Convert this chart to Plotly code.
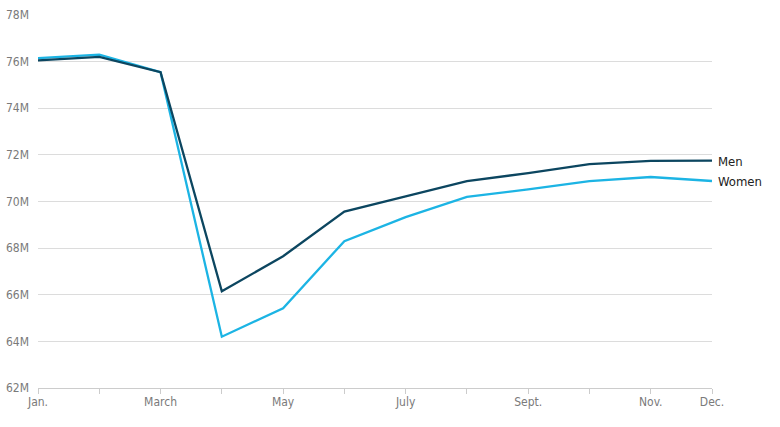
import plotly.graph_objects as go

months = ["Jan.", "Feb.", "March", "April", "May", "June", "July", "Aug.", "Sept.", "Oct.", "Nov.", "Dec."]
tick_labels = ["Jan.", "", "March", "", "May", "", "July", "", "Sept.", "", "Nov.", "Dec."]
men = [76.05, 76.2, 75.55, 66.15, 67.65, 69.57, 70.22, 70.87, 71.22, 71.6, 71.74, 71.75]
women = [76.15, 76.3, 75.55, 64.2, 65.42, 68.3, 69.33, 70.2, 70.52, 70.87, 71.05, 70.88]
y_ticks = [62, 64, 66, 68, 70, 72, 74, 76, 78]

FONT = "DejaVu Sans Condensed, sans-serif"
x = list(range(len(months)))

fig = go.Figure()
fig.add_trace(go.Scatter(x=x, y=women, mode="lines", name="Women",
                         line=dict(color="#1cb4e4", width=2.3)))
fig.add_trace(go.Scatter(x=x, y=men, mode="lines", name="Men",
                         line=dict(color="#0c4660", width=2.3)))

fig.add_annotation(x=x[-1], y=men[-1], text="Men", xref="x", yref="y",
                   xanchor="left", yanchor="middle", xshift=4, yshift=-1, showarrow=False,
                   font=dict(family=FONT, size=13, color="#222222"))
fig.add_annotation(x=x[-1], y=women[-1], text="Women", xref="x", yref="y",
                   xanchor="left", yanchor="middle", xshift=4, yshift=-1, showarrow=False,
                   font=dict(family=FONT, size=13, color="#222222"))

fig.update_layout(
    width=780, height=427,
    margin=dict(l=38, r=68, t=15, b=39),
    plot_bgcolor="white", paper_bgcolor="white",
    showlegend=False,
    font=dict(family=FONT, size=12, color="#7a7a7a"),
)
fig.update_xaxes(
    range=[0, 11], tickvals=x, ticktext=tick_labels,
    showgrid=False, zeroline=False, automargin=False,
    showline=True, linecolor="#cccccc", linewidth=1,
    ticks="outside", ticklen=5, tickcolor="#cccccc", tickwidth=1,
    ticklabelstandoff=-2,
    tickfont=dict(family=FONT, size=12, color="#7a7a7a"),
)
fig.update_yaxes(
    range=[62, 78], tickvals=y_ticks, ticktext=[f"{v}M" for v in y_ticks],
    showgrid=True, gridcolor="#dcdcdc", gridwidth=1, zeroline=False, automargin=False,
    ticks="", ticklabelstandoff=8,
    tickfont=dict(family=FONT, size=12, color="#7a7a7a"),
)

fig.write_html("out.html", config={"displayModeBar": False},
               post_script="document.body.style.margin='0';document.body.style.padding='0';")
